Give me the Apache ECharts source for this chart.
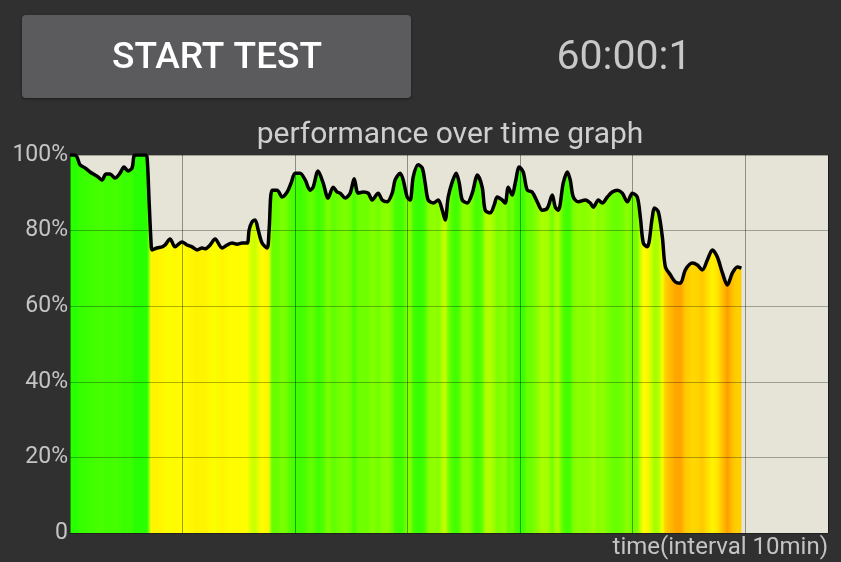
<!DOCTYPE html>
<html><head><meta charset="utf-8">
<script src="https://cdn.jsdelivr.net/npm/echarts@6/dist/echarts.min.js"></script>
<style>html,body{margin:0;padding:0;background:#303030;}#c{width:841px;height:562px;}</style>
</head><body><div id="c"></div>
<script>
// time in minutes
const timeMin = [0,0.36,0.62,0.89,1.33,1.78,2.22,2.49,2.85,3.20,3.56,4.00,4.45,4.80,5.16,5.52,5.69,5.87,6.67,6.85,7.03,7.21,7.30,7.74,8.19,8.45,8.90,9.34,9.96,10.41,10.85,11.30,11.74,12.01,12.46,12.90,13.52,13.97,14.41,14.86,15.30,15.75,15.93,16.19,16.46,16.73,17.08,17.53,17.70,17.97,18.42,18.86,19.31,19.66,20.02,20.46,20.91,21.35,21.62,22.06,22.51,22.95,23.40,23.75,24.02,24.47,24.91,25.27,25.62,26.07,26.51,26.87,27.40,27.76,28.20,28.65,28.91,29.36,29.63,29.98,30.25,30.52,30.96,31.32,31.58,31.85,32.30,32.74,33.10,33.36,33.63,33.99,34.34,34.61,34.88,35.32,35.77,36.03,36.21,36.65,36.92,37.37,37.72,37.99,38.43,38.70,38.97,39.32,39.59,39.95,40.30,40.66,41.10,41.55,41.99,42.44,42.88,43.15,43.42,43.86,44.22,44.48,44.75,45.20,45.82,46.26,46.53,46.98,47.33,47.78,48.22,48.67,49.11,49.56,50.00,50.44,50.71,50.98,51.33,51.78,51.96,52.31,52.67,52.94,53.38,53.83,54.27,54.72,55.34,55.78,56.23,56.67,57.12,57.56,58.01,58.45,58.90,59.34,59.70];
// performance in %
const perfPct = [100,100,99.5,97.4,96.6,95.5,94.7,94.2,93.4,95,95,93.9,95.2,96.8,95.8,96.6,99.8,100,100,99.5,88,76.7,74.9,75.4,75.7,76.2,77.8,75.7,77,76.2,75.7,74.9,75.4,75.2,76.2,77.8,75.4,76.2,76.7,76.4,76.7,76.7,80.2,82.3,82.8,80.2,76.7,75.4,80,90.7,90.7,88.9,90.2,92.6,95.2,95.2,93.4,90.7,91.5,95.8,92.6,88.6,91.5,90.2,89.9,88.6,89.9,93.7,89.9,90.2,89.9,88.1,89.9,88.1,87.6,89.9,93.4,95.2,93.4,88.9,88.1,94.2,97.4,96.6,92.6,88.1,87.3,88.1,85.4,82.8,88.9,92.9,95.2,92.6,88.1,87.3,89.9,93.2,94.7,91.5,85.4,84.7,86.8,88.9,88.1,87.3,91.5,89.4,92.6,96.8,95.5,90.7,90.2,87.6,85.4,85.9,89.4,86.2,85.4,92.6,95.5,93.4,88.9,87.6,88.1,87.3,86.2,88.1,87.3,88.9,90.2,90.7,89.9,87.6,89.9,88.9,83.6,76.7,75.7,83.6,86,85,78.3,70.4,68.3,66.4,66.1,69.6,71.4,70.9,69.6,72.2,74.9,73,68.8,65.6,68.8,70.4,70.1];
const yTicks = [0,20,40,60,80,100];
const xMax = 67.4;
const xInterval = 10;
const titleText = 'performance over time graph';
const buttonText = 'START TEST';
const timerText = '60:00:1';
const xName = 'time(interval 10min)';

// colour scale: value -> colour
const scale = [[65,[255,150,0]],[69,[255,195,0]],[73,[255,230,0]],[77,[255,255,0]],[80,[232,255,0]],[84,[190,255,0]],[88,[135,255,0]],[93,[75,255,0]],[100,[40,255,0]]];
function colorFor(v){
  if (v <= scale[0][0]) return 'rgb(' + scale[0][1].join(',') + ')';
  for (let i=1;i<scale.length;i++){
    if (v <= scale[i][0]){
      const a=scale[i-1], b=scale[i];
      const t=(v-a[0])/(b[0]-a[0]);
      const c=a[1].map((x,k)=>Math.round(x+(b[1][k]-x)*t));
      return 'rgb('+c.join(',')+')';
    }
  }
  return 'rgb(' + scale[scale.length-1][1].join(',') + ')';
}
const t0 = timeMin[0], tN = timeMin[timeMin.length-1];
const stops = timeMin.map((t,i)=>({offset:(t-t0)/(tN-t0), color:colorFor(perfPct[i])}));
const data = timeMin.map((t,i)=>[t, perfPct[i]]);

const chart = echarts.init(document.getElementById('c'), null, {renderer:'canvas'});
chart.setOption({
  backgroundColor:'#303030',
  animation:false,
  grid:{left:70,right:13,top:155,bottom:29,show:true,backgroundColor:'#e6e4d6',borderWidth:0},
  xAxis:{type:'value',min:0,max:xMax,interval:xInterval,z:3,
    axisLine:{show:false},axisTick:{show:false},axisLabel:{show:false},
    splitLine:{show:true,lineStyle:{color:'rgba(0,0,0,0.38)',width:1}},
    name:xName,nameLocation:'end',nameGap:0,
    nameTextStyle:{color:'#c4c4c4',fontFamily:'Roboto',fontSize:24,align:'right',verticalAlign:'top',padding:[3,0,0,0]}
  },
  yAxis:{type:'value',min:0,max:100,interval:20,z:3,
    axisLine:{show:false},axisTick:{show:false},
    axisLabel:{color:'#c4c4c4',fontFamily:'Roboto',fontSize:23,margin:2,
      formatter:v=>yTicks.indexOf(v)>=0?(v===0?'0':v+'%'):''},
    splitLine:{show:true,lineStyle:{color:'rgba(0,0,0,0.3)',width:1}}
  },
  graphic:[
    {type:'rect',shape:{x:22,y:15,width:389,height:83,r:4},style:{fill:'#5b5b5d',shadowBlur:3,shadowColor:'rgba(0,0,0,0.4)',shadowOffsetY:1}},
    {type:'text',x:217,y:59,style:{text:buttonText,fill:'#ffffff',font:'500 37px Roboto',textAlign:'center',textVerticalAlign:'middle'}},
    {type:'text',x:624,y:59,style:{text:timerText,fill:'#c8c8c8',font:'41px Roboto',textAlign:'center',textVerticalAlign:'middle'}},
    {type:'text',x:450,y:135,style:{text:titleText,fill:'#cfcfcf',font:'30px Roboto',textAlign:'center',textVerticalAlign:'middle'}}
  ],
  series:[
    {type:'line',data:data,smooth:0.3,showSymbol:false,z:1,
     lineStyle:{width:0},areaStyle:{opacity:1,color:new echarts.graphic.LinearGradient(0,0,1,0,stops)}},
    {type:'line',data:data,smooth:0.3,showSymbol:false,z:5,
     lineStyle:{width:3.5,color:'#000000'}}
  ]
});
</script></body></html>
